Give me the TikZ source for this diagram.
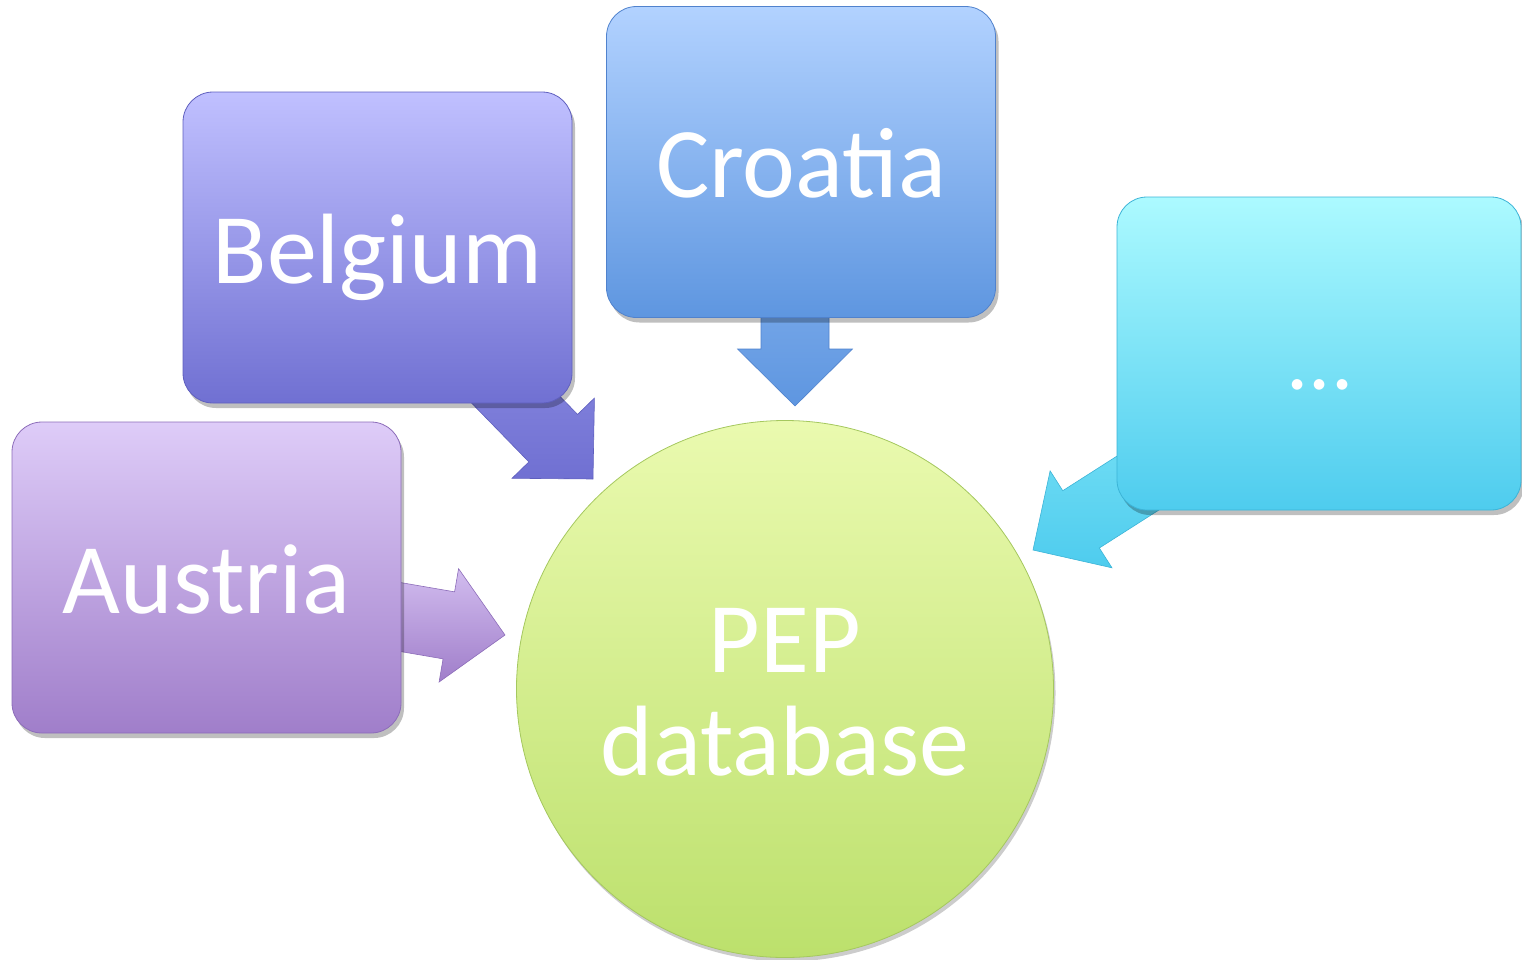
\documentclass[tikz,border=0pt]{standalone}
\usepackage{fontspec}
\setmainfont{Carlito}
\usetikzlibrary{calc,shadows}
\definecolor{austT}{RGB}{222,204,248}
\definecolor{austB}{RGB}{160,126,202}
\definecolor{austD}{RGB}{140,108,185}
\definecolor{belT}{RGB}{192,192,255}
\definecolor{belB}{RGB}{112,112,210}
\definecolor{belD}{RGB}{95,95,190}
\definecolor{croT}{RGB}{178,210,255}
\definecolor{croB}{RGB}{94,150,224}
\definecolor{croD}{RGB}{80,130,205}
\definecolor{dotT}{RGB}{172,250,255}
\definecolor{dotB}{RGB}{78,204,238}
\definecolor{dotD}{RGB}{60,180,215}
\definecolor{pepT}{RGB}{234,250,175}
\definecolor{pepB}{RGB}{188,224,108}
\definecolor{pepD}{RGB}{165,200,95}
\newcommand\blockarrow[3]{%
  \path ($(#2)!57pt!(#1)$) coordinate (hb);
  \path[#3] ($(#1)!34pt!90:(#2)$) -- ($(hb)!34pt!90:(#2)$) -- ($(hb)!57.5pt!90:(#2)$) -- (#2)
    -- ($(hb)!57.5pt!-90:(#2)$) -- ($(hb)!34pt!-90:(#2)$) -- ($(#1)!34pt!-90:(#2)$) -- cycle;
}
\tikzset{
  boxshape/.style={rectangle, rounded corners=30pt, minimum width=389pt, minimum height=311pt,
    inner sep=0pt, text=white, font=\fontsize{100}{103}\selectfont, text height=71pt, text depth=0pt,
    line width=0.8pt, drop shadow={shadow xshift=3pt, shadow yshift=-5pt, opacity=0.25, fill=black}},
  arrowshape/.style={line width=0.6pt, line join=miter},
}
\begin{document}
\begin{tikzpicture}[x=1pt,y=-1pt]
\useasboundingbox (0,0) rectangle (1522,959);

% arrow coordinates
\coordinate (sa) at (380,613.5);
\coordinate (ta) at (505,635);
\coordinate (sb) at (481,364);
\coordinate (tb) at (593,479);
\coordinate (sc) at (795,290);
\coordinate (tc) at (795,406);
\coordinate (sd) at (1185,453);
\coordinate (td) at (1033,550);

% block arrows (behind boxes)
\blockarrow{sa}{ta}{arrowshape, top color=austT!80!austB, bottom color=austB, draw=austD}
\blockarrow{sb}{tb}{arrowshape, top color=belB!70!belT, bottom color=belB, draw=belD}
\blockarrow{sc}{tc}{arrowshape, top color=croB!70!croT, bottom color=croB, draw=croD}
\blockarrow{sd}{td}{arrowshape, top color=dotB!60!dotT, bottom color=dotB, draw=dotD}

% boxes
\node[boxshape, top color=austT, bottom color=austB, draw=austD] (austria) at (206.5,577.5) {Austria};
\node[boxshape, top color=belT, bottom color=belB, draw=belD] (belgium) at (377.5,247.5) {Belgium};
\node[boxshape, top color=croT, bottom color=croB, draw=croD] (croatia) at (801,162) {Croatia};
\node[boxshape, minimum width=404pt, minimum height=313pt, top color=dotT, bottom color=dotB, draw=dotD,
  font=\fontsize{88}{90}\selectfont, text height=0pt, text depth=0pt] (more) at (1319,353.5) {};
\node[anchor=base, text=white, font=\fontsize{88}{90}\selectfont, inner sep=0pt] (moretext) at (1320,389) {...};

% central circle
\node[circle, minimum size=537pt, inner sep=0pt, top color=pepT, bottom color=pepB, draw=pepD,
  line width=0.8pt, text=white, font=\fontsize{100}{103}\selectfont, align=center,
  drop shadow={shadow xshift=2pt, shadow yshift=-4pt, opacity=0.2, fill=black}] (pep) at (785,689) {};
\node[anchor=base, text=white, font=\fontsize{100}{103}\selectfont, inner sep=0pt] (peptext1) at (785,672) {PEP};
\node[anchor=base, text=white, font=\fontsize{100}{103}\selectfont, inner sep=0pt] (peptext2) at (785,775) {database};
\end{tikzpicture}
\end{document}
